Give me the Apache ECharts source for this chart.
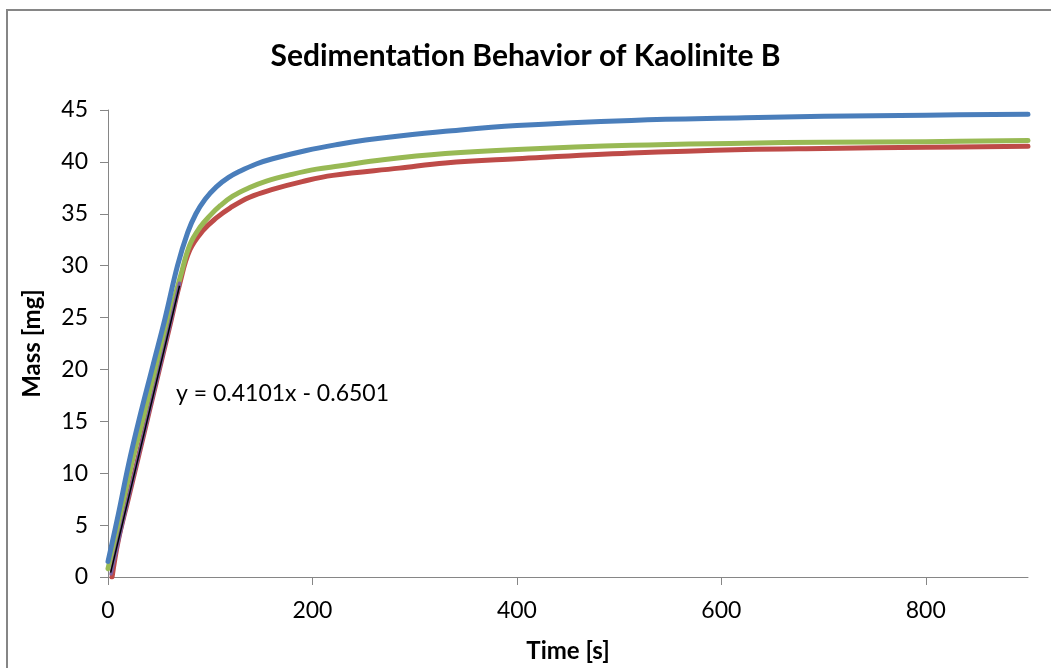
<!DOCTYPE html>
<html>
<head>
<meta charset="utf-8">
<script src="https://cdn.jsdelivr.net/npm/echarts@6/dist/echarts.min.js"></script>
<style>
html,body{margin:0;padding:0;background:#fff;}
#c{width:1051px;height:668px;}
</style>
</head>
<body>
<div id="c"></div>
<script>
// ---- data ----
const titleText = "Sedimentation Behavior of Kaolinite B";
const xAxisName = "Time [s]";
const yAxisName = "Mass [mg]";
const xTicks = [0, 200, 400, 600, 800];
const equationText = "y = 0.4101x - 0.6501";

const blueSeries = [[0,1.5],[10,6],[20,10.8],[30,15],[44,20.4],[56,25],[68,30],[78,33.2],[86,35.0],[95,36.4],[106,37.6],[118,38.5],[129,39.1],[145,39.8],[161,40.3],[194,41.1],[226,41.7],[252,42.1],[285,42.5],[330,42.95],[400,43.5],[512,44.0],[623,44.25],[700,44.4],[800,44.5],[900,44.6]];
const greenSeries = [[0,0.8],[10,5],[23,10.85],[35,15.5],[47.5,20.4],[60,25],[71,29],[80,32.0],[90,33.7],[99.5,34.8],[110,35.8],[122,36.7],[138,37.5],[155,38.15],[180,38.8],[204,39.3],[226,39.6],[269,40.2],[330,40.8],[400,41.2],[512,41.6],[623,41.8],[700,41.9],[800,41.95],[900,42.05]];
const redSeries = [[4,0],[10,3.5],[20,7.6],[30,11.7],[40,15.8],[50,19.9],[60,24],[70,28.2],[80,31.5],[93,33.4],[106,34.6],[120,35.6],[138.5,36.6],[161,37.35],[190,38.1],[220,38.7],[285,39.4],[330,39.9],[400,40.3],[512,40.85],[623,41.2],[700,41.3],[800,41.4],[900,41.5]];
const purpleSeries = [[3,0.3],[20,7.6],[40,15.8],[60,24],[70,28.3]];
const trendLine = [[2.6,0.42],[70,28.06]];

const FONT = "Lato, 'Open Sans', sans-serif";
const chart = echarts.init(document.getElementById('c'));

function lineSeries(name, data, color, width, z) {
  return {
    name: name, type: 'line', data: data, showSymbol: false, symbol: 'none',
    smooth: 0.4, z: z,
    lineStyle: { color: color, width: width, cap: 'round', join: 'round' },
    itemStyle: { color: color }
  };
}

chart.setOption({
  animation: false,
  backgroundColor: '#ffffff',
  title: {
    text: titleText, left: 'center', top: 36,
    textStyle: { fontFamily: FONT, fontSize: 30, fontWeight: 'bold', color: '#000' }
  },
  grid: { left: 108, right: 23, top: 110, bottom: 88, containLabel: false },
  xAxis: {
    type: 'value', min: 0, max: 900,
    name: xAxisName, nameLocation: 'middle', nameGap: 62,
    nameTextStyle: { fontFamily: FONT, fontSize: 24, fontWeight: 'bold', color: '#000' },
    axisLine: { show: true, lineStyle: { color: '#868686', width: 1 } },
    axisTick: { show: true, inside: false, length: 8, lineStyle: { color: '#868686' }, customValues: xTicks },
    axisLabel: { fontFamily: FONT, fontSize: 23, color: '#000', margin: 22, customValues: xTicks },
    splitLine: { show: false }
  },
  yAxis: {
    type: 'value', min: 0, max: 45, interval: 5,
    name: yAxisName, nameLocation: 'middle', nameGap: 64, nameRotate: 90,
    nameTextStyle: { fontFamily: FONT, fontSize: 24, fontWeight: 'bold', color: '#000' },
    axisLine: { show: true, lineStyle: { color: '#868686', width: 1 } },
    axisTick: { show: true, inside: false, length: 8, lineStyle: { color: '#868686' } },
    axisLabel: { fontFamily: FONT, fontSize: 23, color: '#000', margin: 20 },
    splitLine: { show: false }
  },
  graphic: [
    { type: 'rect', shape: { x: 7, y: 10, width: 1060, height: 680 },
      style: { fill: 'none', stroke: '#868686', lineWidth: 2 }, z: -1, silent: true },
    { type: 'text', left: 176, top: 382,
      style: { text: equationText, fontFamily: FONT, fontSize: 23, fill: '#000' } }
  ],
  series: [
    lineSeries('Red', redSeries, '#BE4B48', 5, 2),
    lineSeries('Green', greenSeries, '#98B954', 5, 3),
    lineSeries('Blue', blueSeries, '#4A7EBB', 5, 4),
    lineSeries('Purple', purpleSeries, '#7D60A0', 3.5, 5),
    { name: 'Linear', type: 'line', data: trendLine, showSymbol: false, symbol: 'none', z: 6,
      lineStyle: { color: '#000000', width: 1.5 } }
  ]
});
</script>
</body>
</html>
